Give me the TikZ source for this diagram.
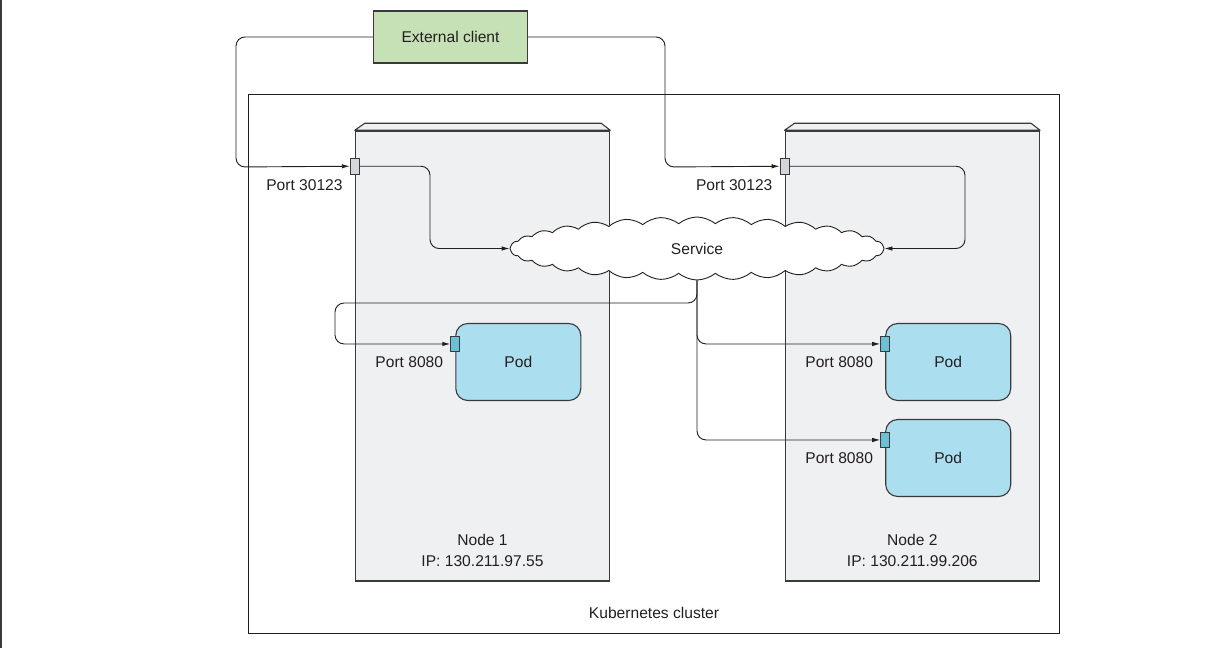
\documentclass[tikz,border=0pt]{standalone}
\usepackage{fontspec}
\setmainfont{Liberation Sans}
\usetikzlibrary{positioning, arrows.meta, shapes.symbols, calc}
\definecolor{cNode}{HTML}{EFF0F2}
\definecolor{cPod}{HTML}{ABDEEF}
\definecolor{cPodPort}{HTML}{6CC0D6}
\definecolor{cClient}{HTML}{C6E1B5}
\definecolor{cPort}{HTML}{D4D6D9}
\definecolor{cEdge}{HTML}{3A3A3C}
\definecolor{cText}{HTML}{231F20}

\begin{document}
\begin{tikzpicture}[
    x=1pt, y=-1pt,
    >={Latex[length=8pt, width=4.5pt]},
    % --- Node styles ---
    txt/.style={font=\fontsize{15.6}{21}\selectfont, text=cText, inner sep=0pt, align=center},
    machine/.style={
        draw=cEdge, line width=1.5pt, fill=cNode,
        minimum width=254pt, minimum height=450pt, inner sep=0pt
    },
    pod/.style={
        txt, draw=cEdge, line width=1.1pt, fill=cPod, rounded corners=12pt,
        minimum width=125pt, minimum height=77pt
    },
    nport/.style={draw=cEdge, line width=0.9pt, fill=cPort, minimum width=9pt, minimum height=16pt, inner sep=0pt},
    pport/.style={draw=cEdge, line width=0.9pt, fill=cPodPort, minimum width=9pt, minimum height=15pt, inner sep=0pt},
    portlbl/.style={txt},
    % --- Arrow styles ---
    arr/.style={->, line width=0.9pt, draw=cText, rounded corners=9pt},
]
\useasboundingbox (0,0) rectangle (1216,648);

% left frame edge
\draw[cEdge, line width=2pt] (1,0) -- (1,648);

% =============================================
% CLUSTER AND MACHINES
% =============================================

\node[draw=cText, line width=0.9pt, minimum width=811pt, minimum height=539pt, inner sep=0pt] (cluster) at (653.5,363.5) {};
\node[txt] (clusterlbl) at (654,613) {Kubernetes cluster};

\node[machine] (n1) at (482.5,356) {};
\node[machine] (n2) at (912.3,356) {};

% bevelled tops
\foreach \m in {n1, n2} {
    \filldraw[cNode, draw=cEdge, line width=1.1pt, line join=round]
        (\m.north west) -- ($(\m.north west)+(10,-7)$) -- ($(\m.north east)+(-9,-7)$) -- (\m.north east) -- cycle;
}

\node[txt] (n1lbl) at (482.5,550) {Node 1\\IP: 130.211.97.55};
\node[txt] (n2lbl) at (912.3,550) {Node 2\\IP: 130.211.99.206};

% =============================================
% PODS
% =============================================

\node[pod] (pod1) at (518.3,362) {Pod};
\node[pod] (pod2) at (948.2,362) {Pod};
\node[pod] (pod3) at (948.2,458) {Pod};

\node[pport] (pp1) at ($(pod1.north west)+(0,21)$) {};
\node[pport] (pp2) at ($(pod2.north west)+(0,21)$) {};
\node[pport] (pp3) at ($(pod3.north west)+(0,21)$) {};

\node[portlbl, below left=5pt and 7pt of pp1.south west, anchor=north east] {Port 8080};
\node[portlbl, below left=5pt and 7pt of pp2.south west, anchor=north east] {Port 8080};
\node[portlbl, below left=5pt and 7pt of pp3.south west, anchor=north east] {Port 8080};

% =============================================
% NODE PORTS AND CLIENT
% =============================================

\node[nport] (np1) at ($(n1.north west)+(0,36)$) {};
\node[nport] (np2) at ($(n2.north west)+(0,36)$) {};

\node[portlbl, below left=5pt and 7pt of np1.south west, anchor=north east] {Port 30123};
\node[portlbl, below left=5pt and 7pt of np2.south west, anchor=north east] {Port 30123};

\node[txt, draw=cEdge, line width=1.1pt, fill=cClient, minimum width=154pt, minimum height=52pt] (client) at (450.5,37) {External client};

% =============================================
% SERVICE
% =============================================

\node[txt, cloud, draw=cText, line width=0.9pt, fill=white, cloud puffs=32, cloud puff arc=80,
      aspect=5.9, minimum width=374pt, minimum height=63pt] (svc) at (697,248.5) {Service};

% =============================================
% ARROWS
% =============================================

\coordinate (cl) at (236,167);
\coordinate (cr) at (665,167);
\coordinate (b1) at (430,248.5);
\coordinate (b2) at (965,248.5);
\coordinate (lft) at (335,303);

\draw[arr] (client.west) -| (cl) -- (np1.west);
\draw[arr] (client.east) -| (cr) -- (np2.west);

\draw[arr] (np1.east) -| (b1) -- (svc.west);
\draw[arr] (np2.east) -| (b2) -- (svc.east);

\draw[arr] (svc.south) |- (lft) |- (pp1.west);
\draw[arr] (svc.south) |- (pp2.west);
\draw[arr] (svc.south) |- (pp3.west);

\end{tikzpicture}
\end{document}
